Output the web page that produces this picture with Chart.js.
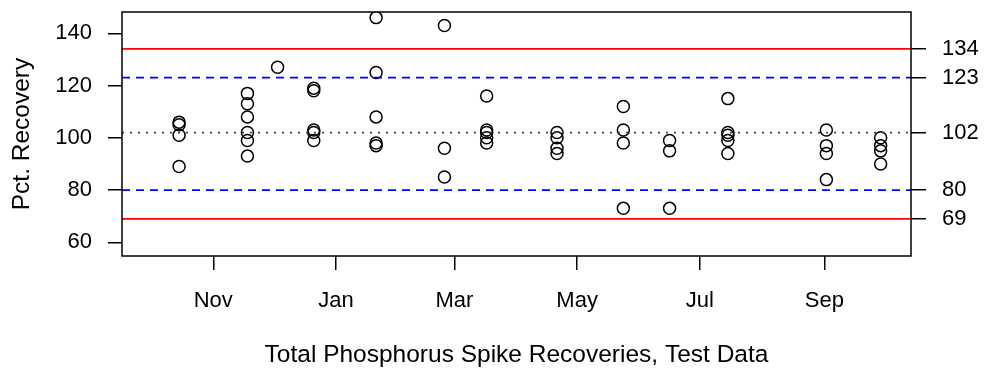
<!DOCTYPE html>
<html>
<head>
<meta charset="utf-8">
<script src="https://cdn.jsdelivr.net/npm/chart.js@4/dist/chart.umd.min.js"></script>
<style>
  html, body { margin: 0; padding: 0; background: #fff; }
  canvas { display: block; }
</style>
</head>
<body>
<canvas id="spikeChart" width="985" height="372"></canvas>
<script>
// spike recoveries, one group of samples per date
const sampleDates = ['2009-10-15', '2009-11-18', '2009-12-03', '2009-12-21', '2010-01-21', '2010-02-24',
    '2010-03-17', '2010-04-21', '2010-05-24', '2010-06-16', '2010-07-15', '2010-09-02', '2010-09-29'];
const recoveries = [
    [106, 105, 101, 89],
    [117, 113, 108, 102, 99, 93],
    [127],
    [119, 118, 103, 102, 99],
    [146, 125, 108, 98, 97],
    [143, 96, 85],
    [116, 103, 102, 100, 98],
    [102, 100, 96, 94],
    [112, 103, 98, 73],
    [99, 95, 73],
    [115, 102, 101, 99, 94],
    [103, 97, 94, 84],
    [100, 97, 95, 90]
];

// control limits
const centerLine = 102;
const warningLimits = [80, 123];
const controlLimits = [69, 134];
const limitTicks = [69, 80, 102, 123, 134];

// axes
const monthDates = ['2009-11-01', '2010-01-01', '2010-03-01', '2010-05-01', '2010-07-01', '2010-09-01'];
const monthLabels = ['Nov', 'Jan', 'Mar', 'May', 'Jul', 'Sep'];
const yTicks = [60, 80, 100, 120, 140];
const xRange = [-45.4, 347.1];   // days from 1 Nov
const yRange = [54.76, 148.15];

const origin = Date.UTC(2009, 10, 1);
function dayOf(s) {
    return (Date.parse(s) - origin) / 86400000;
}
const monthDays = monthDates.map(dayOf);

const points = [];
sampleDates.forEach(function (d, i) {
    recoveries[i].forEach(function (v) {
        points.push({ x: dayOf(d), y: v });
    });
});

function hline(v, color, dash) {
    return {
        type: 'line',
        data: [{ x: xRange[0], y: v }, { x: xRange[1], y: v }],
        borderColor: color,
        borderWidth: 1.8,
        borderDash: dash,
        pointRadius: 0,
        fill: false
    };
}

// no label overflow padding, the box is fixed
function noPad(s) {
    s.paddingTop = 0;
    s.paddingBottom = 0;
    s.paddingLeft = 0;
    s.paddingRight = 0;
}

const boxPlugin = {
    id: 'box',
    afterDraw: function (chart) {
        const a = chart.chartArea;
        const c = chart.ctx;
        c.save();
        c.strokeStyle = '#000';
        c.lineWidth = 1.5;
        c.strokeRect(a.left, a.top, a.right - a.left, a.bottom - a.top);
        c.restore();
    }
};

Chart.defaults.font.family = "'Liberation Sans', Arial, sans-serif";
Chart.defaults.color = '#000';

document.addEventListener("DOMContentLoaded", function () {
    const ctx = document.getElementById('spikeChart').getContext('2d');

    new Chart(ctx, {
        type: 'scatter',
        data: {
            datasets: [
                hline(controlLimits[1], '#ff0000', []),
                hline(controlLimits[0], '#ff0000', []),
                hline(warningLimits[1], '#0000ff', [8, 6]),
                hline(warningLimits[0], '#0000ff', [8, 6]),
                hline(centerLine, '#444', [2, 6]),
                {
                    data: points,
                    pointStyle: 'circle',
                    pointRadius: 6,
                    borderColor: '#000',
                    backgroundColor: 'rgba(0,0,0,0)',
                    borderWidth: 1.5
                }
            ]
        },
        options: {
            responsive: false,
            animation: false,
            devicePixelRatio: 1,
            layout: { padding: { top: 12, left: 0, right: 0, bottom: 0 } },
            plugins: {
                legend: { display: false },
                tooltip: { enabled: false }
            },
            scales: {
                x: {
                    type: 'linear',
                    min: xRange[0],
                    max: xRange[1],
                    afterBuildTicks: function (s) { s.ticks = monthDays.map(v => ({ value: v })); },
                    afterFit: function (s) { s.height = 116; noPad(s); },
                    ticks: {
                        autoSkip: false,
                        maxRotation: 0,
                        padding: 18,
                        font: { size: 22 },
                        callback: function (v) { return monthLabels[monthDays.indexOf(v)]; }
                    },
                    grid: { drawOnChartArea: false, drawTicks: true, tickLength: 14, color: '#000', lineWidth: 1.5 },
                    border: { display: false },
                    title: {
                        display: true,
                        text: 'Total Phosphorus Spike Recoveries, Test Data',
                        font: { size: 24.5 },
                        padding: { top: 0, bottom: 2 }
                    }
                },
                y: {
                    position: 'left',
                    min: yRange[0],
                    max: yRange[1],
                    afterBuildTicks: function (s) { s.ticks = yTicks.map(v => ({ value: v })); },
                    afterFit: function (s) { s.width = 122; noPad(s); },
                    ticks: { padding: 16, font: { size: 22 } },
                    grid: { drawOnChartArea: false, drawTicks: true, tickLength: 14, color: '#000', lineWidth: 1.5 },
                    border: { display: false },
                    title: {
                        display: true,
                        text: 'Pct. Recovery',
                        font: { size: 24.5 },
                        padding: { top: 8, bottom: 0 }
                    }
                },
                y2: {
                    position: 'right',
                    min: yRange[0],
                    max: yRange[1],
                    afterBuildTicks: function (s) { s.ticks = limitTicks.map(v => ({ value: v })); },
                    afterFit: function (s) { s.width = 74; noPad(s); },
                    ticks: { padding: 16, font: { size: 22 } },
                    grid: { drawOnChartArea: false, drawTicks: true, tickLength: 15, color: '#000', lineWidth: 1.5 },
                    border: { display: false }
                }
            }
        },
        plugins: [boxPlugin]
    });
});
</script>
</body>
</html>
